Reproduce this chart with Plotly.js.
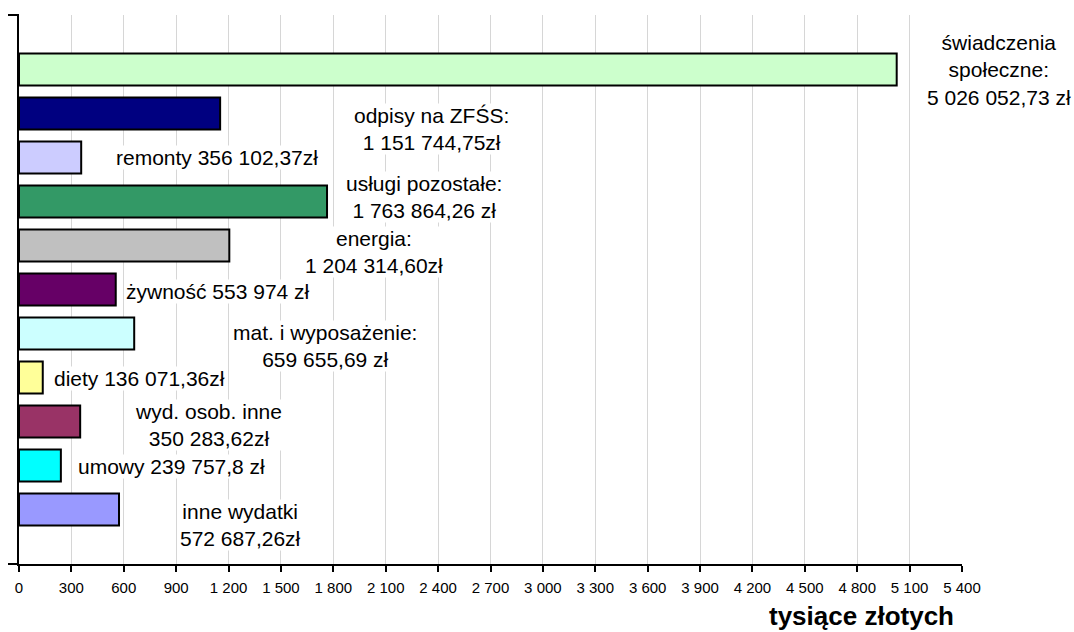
<!DOCTYPE html>
<html>
<head>
<meta charset="utf-8">
<script src="https://cdn.plot.ly/plotly-3.0.1.min.js"></script>
<style>html,body{margin:0;padding:0;background:#fff;}#chart{width:1074px;height:632px;}</style>
</head>
<body>
<div id="chart"></div>
<script>
// Data (thousand zł)
var categories = ["świadczenia społeczne", "odpisy na ZFŚS", "remonty", "usługi pozostałe", "energia", "żywność", "mat. i wyposażenie", "diety", "wyd. osob. inne", "umowy", "inne wydatki"];
var values = [5026.05273, 1151.74475, 356.10237, 1763.86426, 1204.3146, 553.974, 659.65569, 136.07136, 350.28362, 239.7578, 572.68726];
var barColors = ["#CCFFCC", "#000080", "#CCCCFF", "#339966", "#C0C0C0", "#660066", "#CCFFFF", "#FFFF99", "#993366", "#00FFFF", "#9999FF"];
var labelTexts = [
  "świadczenia<br>społeczne:<br>5 026 052,73 zł",
  "odpisy na ZFŚS:<br>1 151 744,75zł",
  "remonty 356 102,37zł",
  "usługi pozostałe:<br>1 763 864,26 zł",
  "energia:<br>1 204 314,60zł",
  "żywność 553 974 zł",
  "mat. i wyposażenie:<br>659 655,69 zł",
  "diety 136 071,36zł",
  "wyd. osob. inne<br>350 283,62zł",
  "umowy 239 757,8 zł",
  "inne wydatki<br>572 687,26zł"
];
var tickVals = [0,300,600,900,1200,1500,1800,2100,2400,2700,3000,3300,3600,3900,4200,4500,4800,5100,5400];
var tickLabels = ["0","300","600","900","1 200","1 500","1 800","2 100","2 400","2 700","3 000","3 300","3 600","3 900","4 200","4 500","4 800","5 100","5 400"];
var axisTitle = "tysiące złotych";

// label placement in pixels (centre of text block)
var labelPos = [[999,70],[431,129],[217,158],[424,197],[374,252],[218,291],[325,346],[139,378],[208,425],[171,466],[240,525]];

var W = 1074, H = 632, ML = 19, MR = 112, MT = 15, MB = 68;
var PW = W - ML - MR, PH = H - MT - MB;
function px2x(p){ return (p - ML) / PW; }
function py2y(p){ return 1 - (p - MT) / PH; }

var idx = categories.map(function(_, i){ return i; });

var trace = {
  type: "bar",
  orientation: "h",
  x: values,
  y: idx,
  width: 0.727,
  marker: { color: barColors, line: { color: "#000", width: 2 } },
  hoverinfo: "x+text",
  text: categories,
  textposition: "none"
};

var annotations = labelTexts.map(function(t, i){
  return {
    text: t, xref: "paper", yref: "paper",
    x: px2x(labelPos[i][0]), y: py2y(labelPos[i][1]),
    xanchor: "center", yanchor: "middle",
    showarrow: false, align: "center",
    bgcolor: "#fff", borderpad: 0,
    font: { family: "Liberation Sans, Arial, sans-serif", size: 21, color: "#000" }
  };
});
annotations.push({
  text: "<b>" + axisTitle + "</b>", xref: "paper", yref: "paper",
  x: px2x(861), y: py2y(616), xanchor: "center", yanchor: "middle",
  showarrow: false,
  font: { family: "Liberation Sans, Arial, sans-serif", size: 26, color: "#000" }
});

var layout = {
  width: W, height: H,
  margin: { l: ML, r: MR, t: MT, b: MB, pad: 0 },
  paper_bgcolor: "#fff", plot_bgcolor: "#fff",
  showlegend: false,
  bargap: 0,
  font: { family: "Liberation Sans, Arial, sans-serif", color: "#000" },
  xaxis: {
    range: [0, 5400],
    tickmode: "array", tickvals: tickVals, ticktext: tickLabels,
    ticks: "outside", ticklen: 6, tickwidth: 2, tickcolor: "#000",
    ticklabelstandoff: 3,
    showgrid: true, gridcolor: "#D6D6D6", gridwidth: 1,
    showline: true, linecolor: "#000", linewidth: 2,
    zeroline: false,
    tickfont: { size: 15, family: "Liberation Sans, Arial, sans-serif", color: "#000" },
    fixedrange: true
  },
  yaxis: {
    range: [11.239, -1.239],
    showticklabels: false, ticks: "",
    showgrid: false, zeroline: false,
    showline: true, linecolor: "#000", linewidth: 2,
    fixedrange: true
  },
  shapes: [
    { type: "line", xref: "paper", yref: "paper", x0: px2x(8), x1: 0, y0: 1, y1: 1, line: { color: "#000", width: 2 } },
    { type: "line", xref: "paper", yref: "paper", x0: px2x(8), x1: 0, y0: 0, y1: 0, line: { color: "#000", width: 2 } }
  ],
  annotations: annotations
};

Plotly.newPlot("chart", [trace], layout, { displayModeBar: false, staticPlot: true });
</script>
</body>
</html>
